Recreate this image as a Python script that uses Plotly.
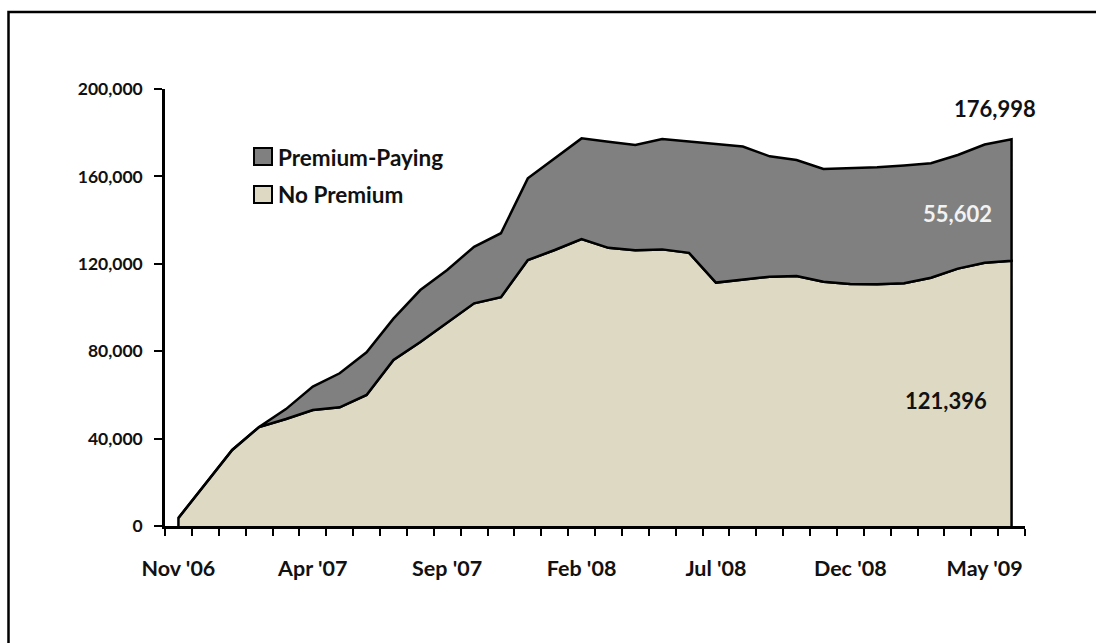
import plotly.graph_objects as go

# Monthly enrollment, Nov 2006 - Jun 2009
months = [
    "Nov '06", "Dec '06", "Jan '07", "Feb '07", "Mar '07", "Apr '07", "May '07", "Jun '07",
    "Jul '07", "Aug '07", "Sep '07", "Oct '07", "Nov '07", "Dec '07", "Jan '08", "Feb '08",
    "Mar '08", "Apr '08", "May '08", "Jun '08", "Jul '08", "Aug '08", "Sep '08", "Oct '08",
    "Nov '08", "Dec '08", "Jan '09", "Feb '09", "Mar '09", "Apr '09", "May '09", "Jun '09",
]
no_premium = [
    3700, 19200, 34800, 45300, 49000, 53100, 54300, 60000,
    76000, 84200, 93200, 101900, 104700, 121700, 126300, 131300,
    127300, 126200, 126600, 125000, 111400, 112600, 114100, 114400,
    111800, 110800, 110600, 111100, 113600, 117800, 120500, 121396,
]
premium_paying = [
    0, 0, 0, 0, 4500, 10700, 15600, 19500,
    18900, 23800, 24000, 25900, 29300, 37400, 42000, 46100,
    48600, 48200, 50500, 51000, 63500, 61100, 55100, 53100,
    51600, 53000, 53600, 53900, 52400, 52000, 54100, 55602,
]
tick_labels = ["Nov '06", "Apr '07", "Sep '07", "Feb '08", "Jul '08", "Dec '08", "May '09"]
y_ticks = [0, 40000, 80000, 120000, 160000, 200000]

NO_PREM_FILL = "#DDD9C3"
PREM_FILL = "#808080"
FONT = "Lato"
INK = "#111111"

idx = list(range(len(months)))
total = [a + b for a, b in zip(no_premium, premium_paying)]
tick_pos = [months.index(t) for t in tick_labels]

fig = go.Figure()

# Lower band: closed outline down to the baseline at both ends
fig.add_trace(go.Scatter(
    x=[idx[0]] + idx + [idx[-1]],
    y=[0] + no_premium + [0],
    fill="toself", fillcolor=NO_PREM_FILL,
    mode="lines", line=dict(color="black", width=2.5),
    name="No Premium", hoverinfo="skip",
))
# Upper band: stacked total forward, lower series back
fig.add_trace(go.Scatter(
    x=idx + idx[::-1],
    y=total + no_premium[::-1],
    fill="toself", fillcolor=PREM_FILL,
    mode="lines", line=dict(color="black", width=2.5),
    name="Premium-Paying", hoverinfo="skip",
))

# plot-area pixel box
PL, PR, PT, PB = 165, 1025, 89, 526


def px(x):
    return (x - PL) / (PR - PL)


def py(y):
    return (PB - y) / (PB - PT)


shapes = [
    # outer frame
    dict(type="rect", xref="paper", yref="paper",
         x0=px(8.5), x1=px(1110), y0=py(720), y1=py(12),
         line=dict(color="black", width=2.5), fillcolor="rgba(0,0,0,0)", layer="above"),
    # legend swatches
    dict(type="rect", xref="paper", yref="paper",
         x0=px(254), x1=px(272), y0=py(165), y1=py(148),
         line=dict(color="black", width=2), fillcolor=PREM_FILL),
    dict(type="rect", xref="paper", yref="paper",
         x0=px(254), x1=px(272), y0=py(203), y1=py(186),
         line=dict(color="black", width=2), fillcolor=NO_PREM_FILL),
]

annotations = [
    dict(xref="paper", yref="paper", x=px(276), y=py(157), xanchor="left", yanchor="middle",
         text="Premium-Paying", showarrow=False,
         font=dict(family=FONT, size=22.5, color=INK, weight="bold")),
    dict(xref="paper", yref="paper", x=px(276), y=py(194), xanchor="left", yanchor="middle",
         text="No Premium", showarrow=False,
         font=dict(family=FONT, size=22.5, color=INK, weight="bold")),
    # end-of-series values
    dict(x=idx[-1], y=total[-1], xref="x", yref="y", text=f"{total[-1]:,}",
         showarrow=False, xshift=-17, yshift=31,
         font=dict(family=FONT, size=22, color=INK, weight="bold")),
    dict(x=idx[-1], y=no_premium[-1] + premium_paying[-1] / 2, xref="x", yref="y",
         text=f"{premium_paying[-1]:,}", showarrow=False, xshift=-54, yshift=-13,
         font=dict(family=FONT, size=22, color="#F2F2F2", weight="bold")),
    dict(x=idx[-1], y=no_premium[-1] / 2, xref="x", yref="y",
         text=f"{no_premium[-1]:,}", showarrow=False, xshift=-66, yshift=-7,
         font=dict(family=FONT, size=22, color=INK, weight="bold")),
]

fig.update_layout(
    width=1096, height=643,
    margin=dict(l=PL, r=1096 - PR, t=PT, b=643 - PB),
    paper_bgcolor="white", plot_bgcolor="white",
    showlegend=False,
    shapes=shapes, annotations=annotations,
    xaxis=dict(
        range=[-0.5, len(months) - 0.5],
        tickmode="array", tickvals=tick_pos, ticktext=tick_labels,
        ticks="", showgrid=False, zeroline=False,
        showline=True, linecolor="black", linewidth=2.5,
        ticklabelstandoff=21,
        tickfont=dict(family=FONT, size=21.5, color=INK, weight="bold"),
        minor=dict(tick0=-0.5, dtick=1, ticks="outside", ticklen=7,
                   tickwidth=2, tickcolor="black", showgrid=False),
    ),
    yaxis=dict(
        range=[0, 200000],
        tickmode="array", tickvals=y_ticks, tickformat=",",
        ticks="outside", ticklen=8, tickwidth=2, tickcolor="black",
        showgrid=False, zeroline=False,
        showline=True, linecolor="black", linewidth=2.5,
        ticklabelstandoff=8,
        tickfont=dict(family=FONT, size=17.5, color=INK, weight="bold"),
    ),
)

fig.write_html("out.html")
